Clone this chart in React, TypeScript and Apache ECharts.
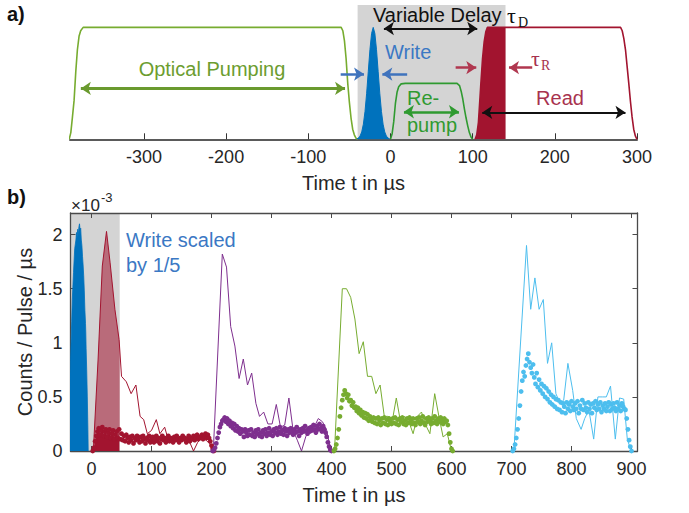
import React, { useEffect, useRef } from 'react';
import * as echarts from 'echarts';

// ---------- Panel a: pulse envelopes [time in µs, relative amplitude] ----------
const opticalPumping = [
  [-391, 0], [-389, 0.06], [-387, 0.2], [-385, 0.35], [-383, 0.6], [-381, 0.8], [-379, 0.92], [-377, 0.97], [-374, 1],
  [-60, 1], [-58, 0.97], [-56, 0.88], [-54, 0.72], [-52, 0.5], [-50, 0.33], [-48, 0.19], [-46, 0.09], [-44, 0.04], [-42, 0.01], [-40, 0],
];
const writePulse = [
  [-41, 0.004], [-39, 0.011], [-37, 0.029], [-35, 0.066], [-33, 0.135], [-31, 0.249], [-29, 0.411], [-27, 0.607], [-25, 0.8], [-23, 0.946],
  [-21, 1], [-19, 0.946], [-17, 0.8], [-15, 0.607], [-13, 0.411], [-11, 0.249], [-9, 0.135], [-7, 0.066], [-5, 0.029], [-3, 0.011], [-1, 0.004],
];
const repumpPulse = [
  [0, 0], [2, 0.05], [4, 0.16], [6, 0.32], [8, 0.42], [10, 0.47], [13, 0.495], [18, 0.5],
  [81, 0.5], [84, 0.48], [86, 0.43], [88, 0.36], [90, 0.27], [92, 0.19], [94, 0.12], [96, 0.06], [98, 0.02], [100, 0],
];
const readPulse = [
  [103, 0], [105, 0.04], [107, 0.15], [109, 0.38], [110, 0.5], [112, 0.72], [114, 0.87], [116, 0.96], [118, 1],
  [280, 1], [282, 0.97], [284, 0.9], [286, 0.8], [288, 0.65], [290, 0.5], [292, 0.34], [294, 0.2], [296, 0.09], [298, 0.03], [300, 0],
];
const readFillA = [
  [103, 0], [105, 0.04], [107, 0.15], [109, 0.38], [110, 0.5], [112, 0.72], [114, 0.87], [116, 0.96], [118, 1], [140, 1],
];
const delayWindowA = [-40, 140];

// ---------- Panel b: counts per pulse per µs (×10^-3) ----------
const gateWindowB = [-35, 47];
const writeScaled = [
  [-37, 0.55], [-35, 0.84], [-33, 1.2], [-32, 1.4], [-30, 1.65], [-28, 1.87], [-26, 1.95], [-25, 2.02], [-24, 1.98], [-23, 2.05],
  [-22, 2.0], [-21, 2.07], [-20, 2.1], [-19, 2.04], [-18, 2.06], [-17, 1.95], [-16, 1.9], [-15, 1.8], [-14, 1.72], [-13, 1.62],
  [-12, 1.48], [-11, 1.3], [-10, 1.18], [-9.5, 1.09], [-9, 0.95], [-8, 0.75], [-7, 0.5], [-6, 0.2], [-5.5, 0],
];
const redLine = [
  [3, 0], [11, 0.85], [18, 1.71], [25, 2.03], [31, 1.74], [39, 1.31], [46, 1.03], [50, 0.69], [58, 0.64], [66, 0.53],
  [74, 0.61], [81, 0.32], [87, 0.29], [93, 0.16], [100, 0.19], [108, 0.29], [114, 0.16], [122, 0.22], [128, 0.1], [135, 0.12],
  [142, 0.1], [149, 0.13], [156, 0.11], [163, 0.09], [170, 0], [177, 0.08], [184, 0.12], [191, 0.1], [198, 0.06], [203, 0],
];
const redLineFill = [
  [3, 0], [11, 0.85], [18, 1.71], [25, 2.03], [31, 1.74], [39, 1.31], [46, 1.03], [47, 0.96],
];
const purpleLine = [
  [203, 0], [218, 1.82], [225, 1.7], [232, 1.15], [239, 0.97], [246, 0.67], [253, 0.85], [260, 0.61], [267, 0.72], [274, 0.44],
  [280, 0.32], [287, 0.36], [294, 0.25], [301, 0.25], [308, 0.43], [315, 0.22], [322, 0.24], [329, 0.49], [336, 0.19], [343, 0.1],
  [350, 0], [357, 0.13], [364, 0.22], [371, 0.22], [378, 0.3], [385, 0.27], [392, 0.19], [399, 0],
];
const greenLine = [
  [405, 0], [418, 1.5], [425, 1.5], [432, 1.42], [439, 1.22], [446, 0.9], [453, 1.01], [460, 0.69], [467, 0.69], [474, 0.53],
  [481, 0.61], [488, 0.32], [494, 0.32], [502, 0.3], [508, 0.49], [515, 0.27], [522, 0.32], [529, 0.27], [536, 0.16], [543, 0.32],
  [550, 0.36], [557, 0.24], [564, 0.16], [572, 0.53], [579, 0.32], [586, 0.13], [593, 0.16], [600, 0],
];
const cyanLine = [
  [704, 0], [725, 1.9], [732, 1.31], [739, 1.6], [746, 1.31], [753, 1.4], [760, 0.81], [767, 1.0], [774, 0.53], [781, 0.44],
  [787, 0.47], [794, 0.81], [802, 0.56], [808, 0.3], [816, 0.2], [822, 0.3], [829, 0.38], [837, 0.11], [844, 0.5], [852, 0.5],
  [858, 0.5], [865, 0.6], [873, 0.11], [880, 0.49], [887, 0.48], [893, 0.11], [897, 0.04], [900, 0],
];

// dotted traces: sampled every dotStep µs starting at the given time
const dotStep = 2;
const redDotsStart = 2;
const redDots = [
  0, 0.03, 0.09, 0.14, 0.18, 0.21, 0.15, 0.19, 0.22, 0.14,
  0.18, 0.2, 0.13, 0.17, 0.2, 0.12, 0.16, 0.19, 0.11, 0.15,
  0.18, 0.12, 0.2, 0.11, 0.16, 0.1, 0.14, 0.09, 0.15, 0.12,
  0.08, 0.13, 0.1, 0.14, 0.07, 0.12, 0.1, 0.14, 0.11, 0.08,
  0.13, 0.09, 0.14, 0.11, 0.07, 0.12, 0.1, 0.14, 0.08, 0.11,
  0.13, 0.08, 0.11, 0.14, 0.09, 0.12, 0.07, 0.11, 0.14, 0.1,
  0.12, 0.08, 0.11, 0.14, 0.09, 0.12, 0.11, 0.08, 0.13, 0.1,
  0.14, 0.11, 0.08, 0.12, 0.1, 0.14, 0.11, 0.12, 0.08, 0.11,
  0.14, 0.09, 0.12, 0.11, 0.14, 0.1, 0.12, 0.15, 0.11, 0.13,
  0.12, 0.15, 0.11, 0.14, 0.16, 0.12, 0.15, 0.12, 0.09, 0.05,
  0.02, 0,
];
const purpleDotsStart = 202;
const purpleDots = [
  0, 0.01, 0.03, 0.07, 0.12, 0.17, 0.22, 0.25, 0.28, 0.29,
  0.31, 0.27, 0.3, 0.25, 0.28, 0.23, 0.26, 0.21, 0.25, 0.19,
  0.23, 0.18, 0.21, 0.16, 0.2, 0.18, 0.13, 0.2, 0.17, 0.14,
  0.19, 0.15, 0.2, 0.14, 0.17, 0.13, 0.19, 0.16, 0.2, 0.14,
  0.17, 0.13, 0.19, 0.16, 0.2, 0.14, 0.17, 0.21, 0.15, 0.18,
  0.14, 0.2, 0.17, 0.21, 0.15, 0.18, 0.22, 0.16, 0.19, 0.15,
  0.21, 0.18, 0.14, 0.2, 0.17, 0.21, 0.18, 0.15, 0.2, 0.17,
  0.22, 0.18, 0.14, 0.2, 0.17, 0.21, 0.18, 0.23, 0.19, 0.16,
  0.21, 0.18, 0.22, 0.19, 0.24, 0.2, 0.17, 0.23, 0.2, 0.25,
  0.21, 0.18, 0.23, 0.2, 0.17, 0.13, 0.08, 0.04, 0.01, 0,
];
const greenDotsStart = 404;
const greenDots = [
  0, 0.02, 0.06, 0.12, 0.2, 0.32, 0.4, 0.47, 0.52, 0.56,
  0.53, 0.49, 0.52, 0.46, 0.47, 0.42, 0.45, 0.4, 0.41, 0.37,
  0.4, 0.35, 0.38, 0.33, 0.36, 0.31, 0.35, 0.3, 0.34, 0.28,
  0.32, 0.29, 0.27, 0.31, 0.26, 0.3, 0.25, 0.31, 0.28, 0.24,
  0.3, 0.26, 0.31, 0.25, 0.29, 0.24, 0.3, 0.27, 0.25, 0.3,
  0.26, 0.31, 0.25, 0.29, 0.24, 0.3, 0.27, 0.31, 0.25, 0.28,
  0.24, 0.3, 0.26, 0.31, 0.28, 0.25, 0.3, 0.26, 0.24, 0.3,
  0.27, 0.31, 0.25, 0.28, 0.32, 0.26, 0.24, 0.3, 0.27, 0.31,
  0.28, 0.25, 0.3, 0.26, 0.32, 0.28, 0.25, 0.3, 0.27, 0.31,
  0.28, 0.25, 0.3, 0.27, 0.28, 0.24, 0.16, 0.08, 0.02, 0,
];
const cyanDotsStart = 702;
const cyanDots = [
  0, 0.02, 0.06, 0.12, 0.2, 0.3, 0.42, 0.55, 0.65, 0.73,
  0.69, 0.79, 0.85, 0.9, 0.82, 0.77, 0.72, 0.8, 0.68, 0.62,
  0.72, 0.59, 0.66, 0.56, 0.62, 0.53, 0.6, 0.5, 0.58, 0.48,
  0.55, 0.45, 0.52, 0.43, 0.5, 0.41, 0.48, 0.39, 0.47, 0.38,
  0.45, 0.36, 0.44, 0.41, 0.35, 0.45, 0.39, 0.43, 0.37, 0.46,
  0.41, 0.38, 0.44, 0.39, 0.46, 0.35, 0.42, 0.39, 0.47, 0.38,
  0.44, 0.4, 0.36, 0.45, 0.39, 0.43, 0.35, 0.44, 0.4, 0.46,
  0.38, 0.43, 0.39, 0.45, 0.36, 0.42, 0.39, 0.44, 0.37, 0.41,
  0.45, 0.37, 0.43, 0.39, 0.44, 0.4, 0.37, 0.45, 0.39, 0.42,
  0.37, 0.44, 0.41, 0.39, 0.38, 0.3, 0.2, 0.1, 0.04, 0,
];

// tick labels
const ticksA = [-300, -200, -100, 0, 100, 200, 300];
const ticksB = [0, 100, 200, 300, 400, 500, 600, 700, 800, 900];
const ticksY = [0, 0.5, 1, 1.5, 2];

const FONT = "'Liberation Sans', Arial, Helvetica, sans-serif";
const SERIF = "'Liberation Serif', 'Times New Roman', serif";

const toPts = (start: number, vals: number[]) => vals.map((v, i) => [start + i * dotStep, v]);

function arrow(x1: number, x2: number, y: number, color: string, width: number, both: boolean) {
  return [
    { coord: [x1, y], symbol: both ? 'arrow' : 'none', lineStyle: { color, width, type: 'solid' } },
    { coord: [x2, y], symbol: 'arrow' },
  ];
}
function markLines(data: any[]) {
  return {
    silent: true,
    symbol: ['arrow', 'arrow'],
    symbolSize: 10,
    label: { show: false },
    lineStyle: { type: 'solid' },
    data,
  };
}

function txt(x: number, y: number, text: string, font: string, fill: string, align = 'left', extra: any = {}) {
  return { type: 'text', x, y, z: 100, zlevel: 0, ...extra, style: { text, font, fill, align, verticalAlign: 'middle' } };
}

function buildOption() {
  const axisTextColor = '#262626';
  const boxColor = '#4a4a4a';
  const xB = { min: -35, max: 910 };
  const yB = { min: 0, max: 2.2 };
  const commonTick = { inside: true, length: 5, lineStyle: { color: boxColor, width: 1 } };

  const blue = '#0072BD';
  const red = '#A2142F';
  const purple = '#7E2F8E';
  const olive = '#77AC30';
  const cyan = '#4DBEEE';

  const lineA = (data: number[][], color: string, extra: any = {}) => ({
    type: 'line', xAxisIndex: 0, yAxisIndex: 0, data, showSymbol: false, symbol: 'none',
    lineStyle: { color, width: 1.6 }, itemStyle: { color }, z: 3, ...extra,
  });
  const lineB = (data: number[][], color: string, extra: any = {}) => ({
    type: 'line', xAxisIndex: 1, yAxisIndex: 1, data, showSymbol: false, symbol: 'none',
    lineStyle: { color, width: 1 }, itemStyle: { color }, z: 3, ...extra,
  });
  const dotsB = (data: number[][], color: string) => ({
    type: 'scatter', xAxisIndex: 1, yAxisIndex: 1, data, symbolSize: 4.8,
    itemStyle: { color, opacity: 1 }, z: 4,
  });

  const redPts = toPts(redDotsStart, redDots);

  return {
    animation: false,
    backgroundColor: '#ffffff',
    grid: [
      { left: 70, top: 5, width: 567, height: 134.3, outerBoundsMode: 'none', containLabel: false },
      { left: 70.5, top: 213, width: 567, height: 238, outerBoundsMode: 'none', containLabel: false },
    ],
    xAxis: [
      {
        type: 'value', gridIndex: 0, min: -390, max: 300,
        axisLine: { show: true, onZero: false, lineStyle: { color: '#5a5a5a', width: 2 } },
        axisTick: { show: true, inside: true, length: 6, customValues: ticksA, lineStyle: { color: '#333', width: 1 } },
        axisLabel: { show: true, customValues: ticksA, color: axisTextColor, fontSize: 18, fontFamily: FONT, margin: 9,
          formatter: (v: number) => (ticksA.includes(v) ? String(v) : '') },
        splitLine: { show: false },
        name: 'Time t in µs', nameLocation: 'middle', nameGap: 34,
        nameTextStyle: { color: axisTextColor, fontSize: 20, fontFamily: FONT },
      },
      {
        type: 'value', gridIndex: 1, ...xB, position: 'bottom',
        axisLine: { show: true, onZero: false, lineStyle: { color: boxColor, width: 1.3 } },
        axisTick: { show: true, ...commonTick, customValues: ticksB },
        axisLabel: { show: true, customValues: ticksB, color: axisTextColor, fontSize: 18, fontFamily: FONT, margin: 9,
          formatter: (v: number) => (ticksB.includes(v) ? String(v) : '') },
        splitLine: { show: false },
        name: 'Time t in µs', nameLocation: 'middle', nameGap: 34,
        nameTextStyle: { color: axisTextColor, fontSize: 20, fontFamily: FONT },
      },
      {
        type: 'value', gridIndex: 1, ...xB, position: 'top',
        axisLine: { show: true, onZero: false, lineStyle: { color: boxColor, width: 1.3 } },
        axisTick: { show: true, ...commonTick, customValues: ticksB },
        axisLabel: { show: false },
        splitLine: { show: false },
      },
    ],
    yAxis: [
      { type: 'value', gridIndex: 0, min: 0, max: 1.2, show: false },
      {
        type: 'value', gridIndex: 1, ...yB, position: 'left',
        axisLine: { show: true, onZero: false, lineStyle: { color: boxColor, width: 1.3 } },
        axisTick: { show: true, ...commonTick, customValues: ticksY },
        axisLabel: { show: true, customValues: ticksY, color: axisTextColor, fontSize: 18, fontFamily: FONT, margin: 8,
          formatter: (v: number) => (ticksY.includes(v) ? String(v) : '') },
        splitLine: { show: false },
      },
      {
        type: 'value', gridIndex: 1, ...yB, position: 'right',
        axisLine: { show: true, onZero: false, lineStyle: { color: boxColor, width: 1.3 } },
        axisTick: { show: true, ...commonTick, customValues: ticksY },
        axisLabel: { show: false },
        splitLine: { show: false },
      },
    ],
    series: [
      // ----- panel a -----
      lineA(opticalPumping, olive, {
        markArea: { silent: true, z: 0, itemStyle: { color: '#d4d4d4' }, data: [[{ xAxis: delayWindowA[0] }, { xAxis: delayWindowA[1] }]] },
        markLine: markLines([arrow(-376.8, -55.3, 0.455, '#6a9a2e', 3, true)]),
      }),
      lineA(writePulse, blue, {
        lineStyle: { color: blue, width: 1 }, areaStyle: { color: blue, opacity: 1 },
        markLine: markLines([
          arrow(-60.6, -32.2, 0.583, '#3f73bd', 2.5, false),
          arrow(20.3, -9.9, 0.583, '#3f73bd', 2.5, false),
        ]),
      }),
      lineA(repumpPulse, '#2f9a30', {
        markLine: markLines([arrow(16.4, 83.3, 0.246, '#2f9a30', 2.5, true)]),
      }),
      lineA(readFillA, red, { lineStyle: { width: 0, color: red }, areaStyle: { color: red, opacity: 1 } }),
      lineA(readPulse, red, {
        markLine: markLines([
          arrow(79.3, 104.4, 0.64, '#b0374f', 2.5, false),
          arrow(172.5, 144.2, 0.64, '#b0374f', 2.5, false),
          arrow(-8, 105.6, 0.99, '#111111', 2, true),
          arrow(111.7, 286, 0.24, '#111111', 2, true),
        ]),
      }),
      // ----- panel b -----
      lineB(writeScaled, blue, {
        lineStyle: { color: blue, width: 0.8 }, areaStyle: { color: blue, opacity: 1 },
        markArea: { silent: true, z: 0, itemStyle: { color: '#d4d4d4' }, data: [[{ xAxis: gateWindowB[0] }, { xAxis: gateWindowB[1] }]] },
      }),
      lineB(redLineFill, red, { lineStyle: { width: 0, color: red }, areaStyle: { color: red, opacity: 0.55 } }),
      lineB(redPts.filter((p) => p[0] <= 46), red, { lineStyle: { width: 0, color: red }, areaStyle: { color: red, opacity: 1 } }),
      lineB(redLine, red),
      lineB(purpleLine, purple),
      lineB(greenLine, olive),
      lineB(cyanLine, cyan),
      dotsB(redPts, red),
      dotsB(toPts(purpleDotsStart, purpleDots), purple),
      dotsB(toPts(greenDotsStart, greenDots), olive),
      dotsB(toPts(cyanDotsStart, cyanDots), cyan),
    ],
    graphic: {
      elements: [
        txt(7, 14, 'a)', `bold 20px ${FONT}`, '#111'),
        txt(7, 197, 'b)', `bold 20px ${FONT}`, '#111'),
        txt(212, 69, 'Optical Pumping', `20px ${FONT}`, '#6c9d2f', 'center'),
        txt(373, 15, 'Variable Delay', `20px ${FONT}`, '#111'),
        txt(507, 15, 'τ', `22px ${SERIF}`, '#111'),
        txt(518, 22, 'D', `14px ${SERIF}`, '#111'),
        txt(385, 52, 'Write', `20px ${FONT}`, '#3b78c4'),
        txt(531, 58, 'τ', `22px ${SERIF}`, '#a8324e'),
        txt(541, 65, 'R', `14px ${SERIF}`, '#a8324e'),
        txt(560, 98, 'Read', `20px ${FONT}`, '#a8324e', 'center'),
        txt(407, 98, 'Re-', `20px ${FONT}`, '#2f9a30'),
        txt(407, 125, 'pump', `20px ${FONT}`, '#2f9a30'),
        txt(126, 240, 'Write scaled', `20px ${FONT}`, '#3b78c4'),
        txt(126, 265, 'by 1/5', `20px ${FONT}`, '#3b78c4'),
        txt(71, 205, '×10', `17px ${FONT}`, axisTextColor),
        txt(101, 197, '-3', `13px ${FONT}`, axisTextColor),
        txt(25, 332, 'Counts / Pulse / µs', `20px ${FONT}`, axisTextColor, 'center', { rotation: Math.PI / 2 }),
      ],
    },
  };
}

export default function App() {
  const ref = useRef<HTMLDivElement>(null);
  useEffect(() => {
    if (!ref.current) return;
    const chart = echarts.init(ref.current, null, { renderer: 'svg' });
    chart.setOption(buildOption() as any);
    return () => chart.dispose();
  }, []);
  return (
    <div
      ref={ref}
      style={{ position: 'fixed', left: 0, top: 0, width: 689, height: 513, background: '#ffffff' }}
    />
  );
}
